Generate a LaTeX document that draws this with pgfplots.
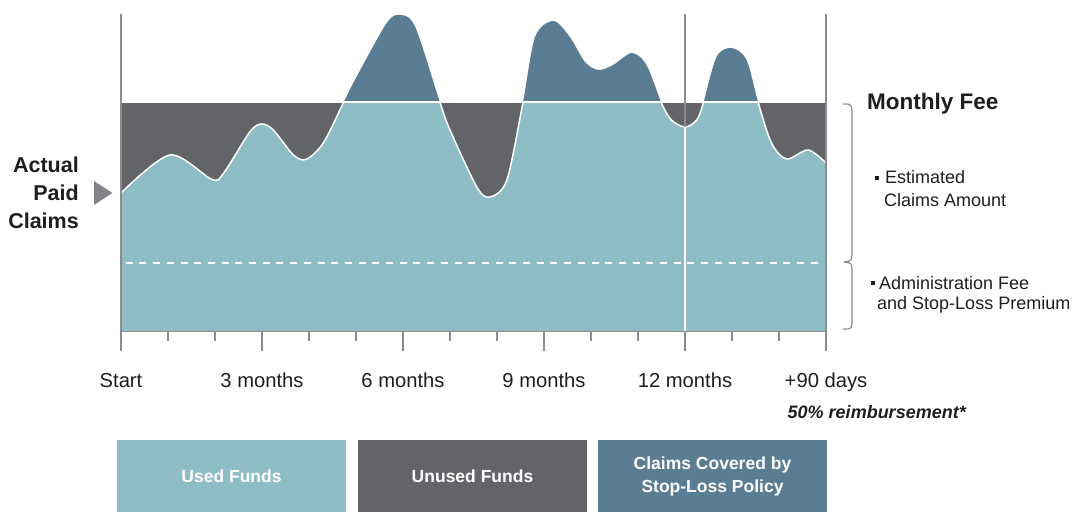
\documentclass[border=0pt]{standalone}
\usepackage{pgfplots}
\pgfplotsset{compat=1.18}
\usepackage{fontspec}
\setmainfont{Liberation Sans}
\definecolor{usedc}{HTML}{8FBDC6}
\definecolor{unusedc}{HTML}{636468}
\definecolor{stopc}{HTML}{5A7D94}
\definecolor{axisc}{HTML}{8C8C8E}
\definecolor{txt}{HTML}{1E1E1E}
\definecolor{trig}{HTML}{838487}

\pgfplotstableread{
x y
0 138
1.04 176
1.93 151.7
2.18 157.7
2.74 199
2.99 207
3.24 201
3.67 176
3.94 171.7
4.30 187.7
4.73 228
5.01 254
5.65 307.7
5.94 316
6.26 304
6.79 228
7.00 201
7.57 144
7.85 134
8.21 151
8.55 228
8.81 294
9.20 310
9.55 294
9.87 269
10.16 261
10.47 266
10.87 278
11.18 266
11.50 228
11.71 211
12.00 204
12.25 211
12.39 228
12.67 274
12.99 283
13.31 271
13.56 228
13.84 188
14.16 172
14.62 181
15.00 168
}\claims

\begin{document}
\begin{tikzpicture}
\useasboundingbox (0pt,0pt) rectangle (1074pt,513pt);
\begin{axis}[
  at={(121pt,182pt)}, anchor=south west,
  scale only axis, width=705pt, height=317pt,
  xmin=0, xmax=15, ymin=0, ymax=317,
  axis x line*=bottom, axis y line=none,
  x axis line style={color=axisc, line width=1.8pt},
  xtick={0,3,6,9,12,15},
  minor xtick={1,2,4,5,7,8,10,11,13,14},
  xticklabels={Start,3 months,6 months,9 months,12 months,+90 days},
  tick align=outside,
  major tick length=20pt, minor tick length=10pt,
  every tick/.style={color=axisc, line width=1.6pt},
  xticklabel style={font=\fontsize{20.2}{23}\selectfont, text=txt, anchor=base, yshift=-37pt},
  clip=false,
]
% unused funds (monthly fee level)
\addplot[draw=none, fill=unusedc] coordinates {(0,229) (15,229)} \closedcycle;
% claims, full
\addplot[draw=none, fill=stopc, smooth] table[x=x,y=y] {\claims} \closedcycle;
% claims below the monthly fee
\begin{scope}
\clip (axis cs:0,0) rectangle (axis cs:15,229);
\addplot[draw=none, fill=usedc, smooth] table[x=x,y=y] {\claims} \closedcycle;
\addplot[white, line width=1.5pt, smooth] table[x=x,y=y] {\claims};
\end{scope}
\addplot[white, line width=1.5pt] coordinates {(0,229) (15,229)};
% admin fee dashed level
\addplot[white, line width=1.5pt, dash pattern=on 7pt off 6.7pt] coordinates {(0.1,68) (14.9,68)};
% 12 months line
\addplot[axisc, line width=1.8pt] coordinates {(12,0) (12,317)};
\addplot[white, line width=1.8pt] coordinates {(12,0) (12,204)};
% frame verticals
\addplot[axisc, line width=1.8pt] coordinates {(0,0) (0,317)};
\addplot[axisc, line width=1.8pt] coordinates {(15,0) (15,317)};
\end{axis}

\begin{scope}[x=1pt,y=1pt]
% left label
\node[anchor=east, align=right, text=txt, font=\fontsize{21.5}{28}\selectfont\bfseries, inner sep=0pt] at (79,320) {Actual\\Paid\\Claims};
\fill[trig] (94,332) -- (112.5,320) -- (94,308) -- cycle;
% right annotations
\node[anchor=base west, text=txt, font=\fontsize{22.5}{26}\selectfont\bfseries, inner sep=0pt] at (867,403.5) {Monthly Fee};
\fill[txt] (875,333) rectangle (878.5,336.5);
\node[anchor=base west, text=txt, font=\fontsize{18}{21}\selectfont, inner sep=0pt] at (885,329.5) {Estimated};
\node[anchor=base west, text=txt, font=\fontsize{18}{21}\selectfont, inner sep=0pt] at (884,306.3) {Claims Amount};
\fill[txt] (871,228) rectangle (874.5,231.5);
\node[anchor=base west, text=txt, font=\fontsize{18}{21}\selectfont, inner sep=0pt] at (879,223) {Administration Fee};
\node[anchor=base west, text=txt, font=\fontsize{18}{21}\selectfont, inner sep=0pt] at (877,203) {and Stop-Loss Premium};
% braces
\draw[axisc, line width=1.2pt] (843,409) .. controls (852,409) .. (852,398) -- (852,263) .. controls (852,252) .. (844,251);
\draw[axisc, line width=1.2pt] (844,251) .. controls (852,250) .. (852,240) -- (852,194) .. controls (852,184) .. (843,184);
% reimbursement note
\node[anchor=base east, text=txt, font=\fontsize{18}{21}\selectfont\bfseries\itshape, inner sep=0pt] at (966,94) {50\% reimbursement*};
% legend
\fill[usedc] (117,1) rectangle (346,73);
\fill[unusedc] (358,1) rectangle (587,73);
\fill[stopc] (598,1) rectangle (827,73);
\node[text=white, font=\fontsize{17.5}{22}\selectfont\bfseries] at (231.5,37) {Used Funds};
\node[text=white, font=\fontsize{17.5}{22}\selectfont\bfseries] at (472.5,37) {Unused Funds};
\node[text=white, align=center, font=\fontsize{17.5}{23}\selectfont\bfseries] at (712.5,37) {Claims Covered by\\Stop-Loss Policy};
\end{scope}
\end{tikzpicture}
\end{document}
